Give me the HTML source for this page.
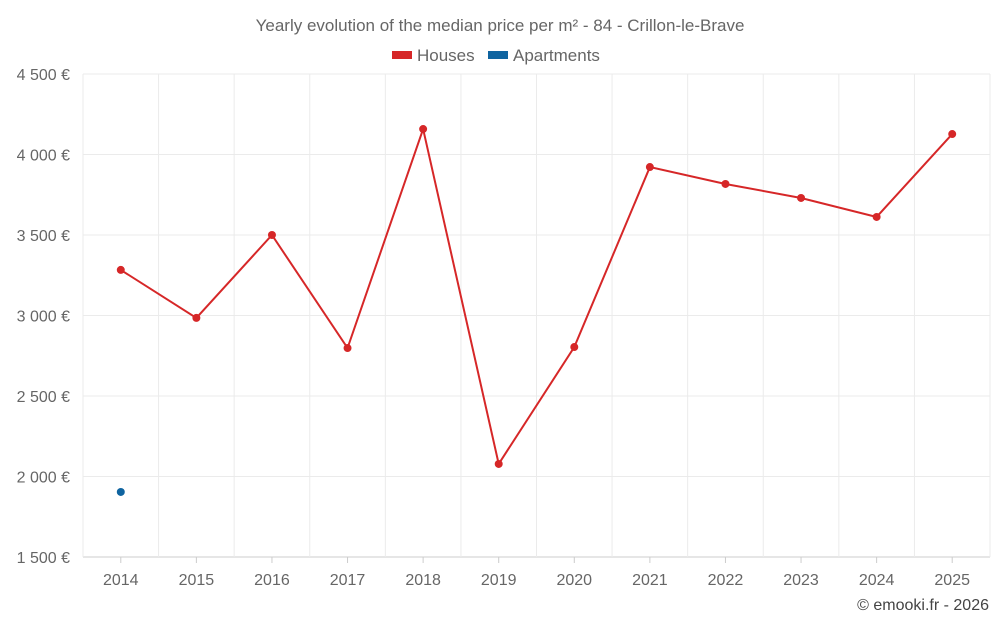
<!DOCTYPE html>
<html><head><meta charset="utf-8"><style>
body{margin:0;background:#fff;font-family:"Liberation Sans",sans-serif;}
svg text{font-family:"Liberation Sans",sans-serif;fill:#666;}
</style></head><body>
<svg id="chart" width="1000" height="625" viewBox="0 0 1000 625" xmlns="http://www.w3.org/2000/svg">
<text x="500" y="31" text-anchor="middle" font-size="17">Yearly evolution of the median price per m² - 84 - Crillon-le-Brave</text>
<g>
<g><rect x="392" y="51" width="20" height="8" fill="#d62728"/><text x="417" y="61" font-size="17">Houses</text></g>
<g><rect x="488" y="51" width="20" height="8" fill="#1f6aa5" style="fill:#0f64a0"/><text x="513" y="61" font-size="17">Apartments</text></g>
</g>
<g id="grid"></g><g id="axes"></g><g id="marks"></g>
<text x="989" y="610" text-anchor="end" font-size="16" style="fill:#444">© emooki.fr - 2026</text>
</svg>
<script>
const years=[2014,2015,2016,2017,2018,2019,2020,2021,2022,2023,2024,2025];
const houses=[3283,2985,3500,2798,4158,2078,2804,3922,3817,3730,3612,4127];
const apartments=[1904,null,null,null,null,null,null,null,null,null,null,null];
const yTicks=[1500,2000,2500,3000,3500,4000,4500];
const yTickLabels=["1 500 €","2 000 €","2 500 €","3 000 €","3 500 €","4 000 €","4 500 €"];
const L=83,R=990,T=74,B=557,yMin=1500,yMax=4500;
const step=(R-L)/years.length;
const x=i=>L+step*(i+0.5);
const y=v=>B-(v-yMin)/(yMax-yMin)*(B-T);
const NS="http://www.w3.org/2000/svg";
function mk(tag,attrs,parent,txt){const e=document.createElementNS(NS,tag);for(const k in attrs)e.setAttribute(k,attrs[k]);if(txt!=null)e.textContent=txt;parent.appendChild(e);return e;}
const grid=document.getElementById('grid'),axes=document.getElementById('axes'),marks=document.getElementById('marks');
yTicks.forEach((t,i)=>{
 const l=mk('line',{x1:L,x2:R,y1:y(t),y2:y(t),stroke:i==0?'#ccc':'#ebebeb','stroke-width':1},grid);
 
 
 const tx=mk('text',{x:70,y:y(t)+6,'text-anchor':'end','font-size':16},axes,yTickLabels[i]);
 
 
});
for(let i=0;i<=years.length;i++){
 const gx=L+step*i;
 const l=mk('line',{x1:gx,x2:gx,y1:T,y2:B+(i>0&&i<years.length?0:0),stroke:'#ebebeb'},grid);
 
 
}
years.forEach((yr,i)=>{
 const tk=mk('line',{x1:x(i),x2:x(i),y1:B,y2:B+6,stroke:'#ccc'},axes);
 
 
 const tx=mk('text',{x:x(i),y:585,'text-anchor':'middle','font-size':16},axes,yr);
 
 
});
const pts=houses.map((v,i)=>v==null?null:x(i)+','+y(v)).filter(p=>p).join(' ');
const pl=mk('polyline',{points:pts,fill:'none',stroke:'#d62728','stroke-width':2},marks);


houses.forEach((v,i)=>{if(v==null)return;
 const c=mk('circle',{cx:x(i),cy:y(v),r:4,fill:'#d62728'},marks);
 
 
});
apartments.forEach((v,i)=>{if(v==null)return;
 const c=mk('circle',{cx:x(i),cy:y(v),r:4,fill:'#0f64a0'},marks);
 
 
});
</script>
</body></html>
